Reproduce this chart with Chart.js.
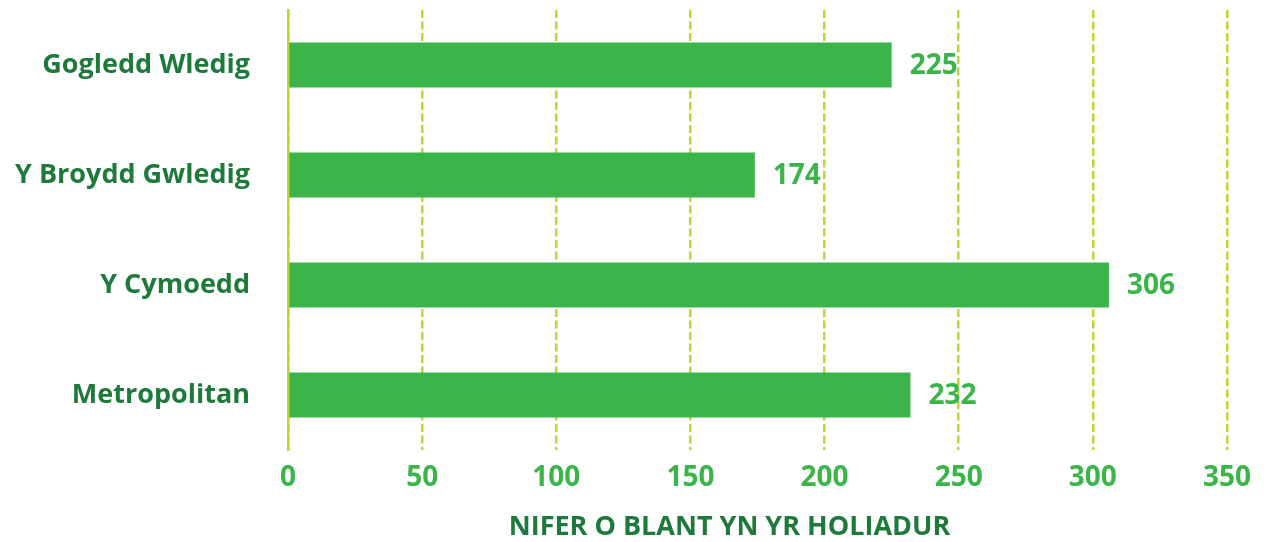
<!DOCTYPE html>
<html>
<head>
<meta charset="utf-8">
<script src="https://cdn.jsdelivr.net/npm/chart.js@4.4.1/dist/chart.umd.min.js"></script>
<style>
    body { margin: 0; background: #ffffff; }
    #wrap { width: 1268px; height: 542px; }
</style>
</head>
<body>
<div id="wrap"><canvas id="barChart" width="1268" height="542"></canvas></div>
<script>
// data
const categories = ["Gogledd Wledig", "Y Broydd Gwledig", "Y Cymoedd", "Metropolitan"];
const counts = [225, 174, 306, 232];
const xTicks = [0, 50, 100, 150, 200, 250, 300, 350];
const axisTitle = "NIFER O BLANT YN YR HOLIADUR";

const barGreen = "#3bb54a";
const darkGreen = "#1e7a3b";
const lineGreen = "#bed62f";
const fontFamily = "'Open Sans', 'DejaVu Sans', sans-serif";

// labels at the end of each bar + axis title (sits a little left of centre)
const valueLabels = {
    id: "valueLabels",
    afterDatasetsDraw(chart) {
        const ctx = chart.ctx;
        const meta = chart.getDatasetMeta(0);
        ctx.save();
        ctx.font = "bold 28px " + fontFamily;
        ctx.fillStyle = barGreen;
        ctx.textAlign = "left";
        ctx.textBaseline = "middle";
        meta.data.forEach(function (bar, i) {
            ctx.fillText(String(counts[i]), bar.x + 18, bar.y + 1);
        });

        const area = chart.chartArea;
        ctx.font = "bold 27px " + fontFamily;
        ctx.fillStyle = darkGreen;
        ctx.textAlign = "center";
        ctx.fillText(axisTitle, (area.left + area.right) / 2 - 28, area.bottom + 77);
        ctx.restore();
    }
};

new Chart(document.getElementById("barChart"), {
    type: "bar",
    data: {
        labels: categories,
        datasets: [{
            data: counts,
            backgroundColor: barGreen,
            barPercentage: 0.82,
            categoryPercentage: 0.5
        }]
    },
    options: {
        indexAxis: "y",
        responsive: false,
        animation: false,
        layout: { padding: { top: 10, right: 41, left: 0, bottom: 0 } },
        plugins: {
            legend: { display: false },
            tooltip: { enabled: false }
        },
        scales: {
            x: {
                min: 0,
                max: 350,
                afterBuildTicks(scale) {
                    scale.ticks = xTicks.map(v => ({ value: v }));
                },
                afterFit(scale) {
                    scale.height = 92;
                },
                grid: {
                    color: lineGreen,
                    lineWidth: 2.5,
                    drawTicks: false
                },
                border: { display: false, dash: [8, 3.5] },
                ticks: {
                    color: barGreen,
                    padding: 11,
                    font: { family: fontFamily, size: 28, weight: "bold" }
                }
            },
            y: {
                afterFit(scale) {
                    scale.width = 288;
                    scale.paddingTop = 0;
                    scale.paddingBottom = 0;
                },
                grid: { display: false, drawTicks: false },
                border: { display: true, color: lineGreen, width: 2.5 },
                ticks: {
                    color: darkGreen,
                    padding: 38,
                    font: { family: fontFamily, size: 27, weight: "bold" }
                }
            }
        }
    },
    plugins: [valueLabels]
});
</script>
</body>
</html>
